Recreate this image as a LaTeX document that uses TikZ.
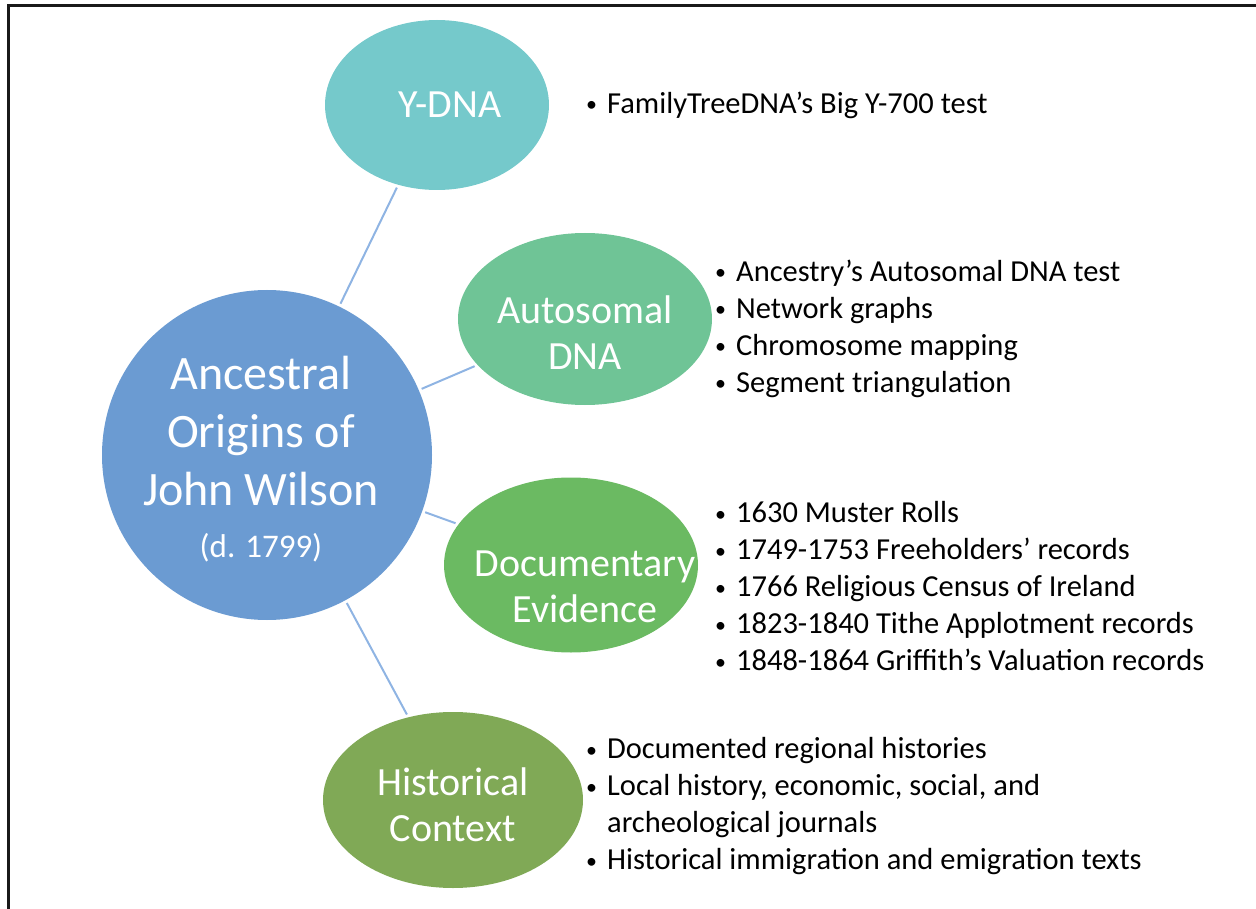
\documentclass[tikz,border=0pt]{standalone}
\usepackage{fontspec}
\setmainfont{Carlito}
\usepackage{xcolor}
\definecolor{hubfill}{HTML}{6B9BD2}
\definecolor{ydnafill}{HTML}{75C9CB}
\definecolor{autofill}{HTML}{6FC496}
\definecolor{docfill}{HTML}{6BBA62}
\definecolor{histfill}{HTML}{80A956}
\definecolor{spoke}{HTML}{8FB4E3}
\usepackage{tikz}
\usetikzlibrary{shapes.geometric}

\tikzset{
  topic/.style={ellipse,inner sep=0pt},
  topictext/.style={text=white,align=center,inner sep=0pt,font=\fontsize{40}{46}\selectfont},
  itemlist/.style={anchor=west,inner sep=0pt,font=\fontsize{30.5}{37}\selectfont},
  spokeline/.style={spoke,line width=2pt,shorten <=3pt,shorten >=3pt}
}
\newcommand{\blt}{\raisebox{0.12ex}{\scalebox{0.72}{\textbullet}}}

\begin{document}
\begin{tikzpicture}[x=1pt,y=-1pt]
\useasboundingbox (0,0) rectangle (1256,909);
\draw[line width=3pt,black!90] (8,909) -- (8,6) -- (1256,6);
% circles and ellipses
\node[topic,fill=hubfill,minimum width=330pt,minimum height=330pt] (hub) at (267,455) {};
\node[topic,fill=ydnafill,minimum width=224pt,minimum height=170pt] (ydna) at (437,105) {};
\node[topic,fill=autofill,minimum width=254pt,minimum height=172pt] (auto) at (585,319) {};
\node[topic,fill=docfill,minimum width=254pt,minimum height=175pt] (docs) at (571,565) {};
\node[topic,fill=histfill,minimum width=260pt,minimum height=176pt] (hist) at (453,800) {};
% texts in them
\node[topictext,font=\fontsize{48}{58}\selectfont] (hubtext) at (261,459) {Ancestral\\Origins of\\John Wilson\\[-6pt]{\fontsize{33}{38}\selectfont (d. 1799)}};
\node[topictext] (ydnatext) at (450,105) {Y-DNA};
\node[topictext] (autotext) at (585,333) {Autosomal\\DNA};
\node[topictext] (docstext) at (585,587) {Documentary\\Evidence};
\node[topictext] (histtext) at (453,805) {Historical\\Context};
\draw[spokeline] (hub) -- (ydna);
\draw[spokeline] (hub) -- (auto);
\draw[spokeline] (hub) -- (docs);
\draw[spokeline] (hub) -- (hist);
% bullet lists
\node[itemlist] (ydnalist) at (586,106) {\begin{tabular}{@{}l@{\hspace{10pt}}l@{}}
\blt & FamilyTreeDNA’s Big Y-700 test\end{tabular}};
\node[itemlist] (autolist) at (715,329.5) {\begin{tabular}{@{}l@{\hspace{10pt}}l@{}}
\blt & Ancestry’s Autosomal DNA test\\
\blt & Network graphs\\
\blt & Chromosome mapping\\
\blt & Segment triangulation\end{tabular}};
\node[itemlist] (docslist) at (715,589.5) {\begin{tabular}{@{}l@{\hspace{10pt}}l@{}}
\blt & 1630 Muster Rolls\\
\blt & 1749-1753 Freeholders’ records\\
\blt & 1766 Religious Census of Ireland\\
\blt & 1823-1840 Tithe Applotment records\\
\blt & 1848-1864 Griffith’s Valuation records\end{tabular}};
\node[itemlist] (histlist) at (586,807) {\begin{tabular}{@{}l@{\hspace{10pt}}l@{}}
\blt & Documented regional histories\\
\blt & Local history, economic, social, and\\
 & archeological journals\\
\blt & Historical immigration and emigration texts\end{tabular}};
\end{tikzpicture}
\end{document}
